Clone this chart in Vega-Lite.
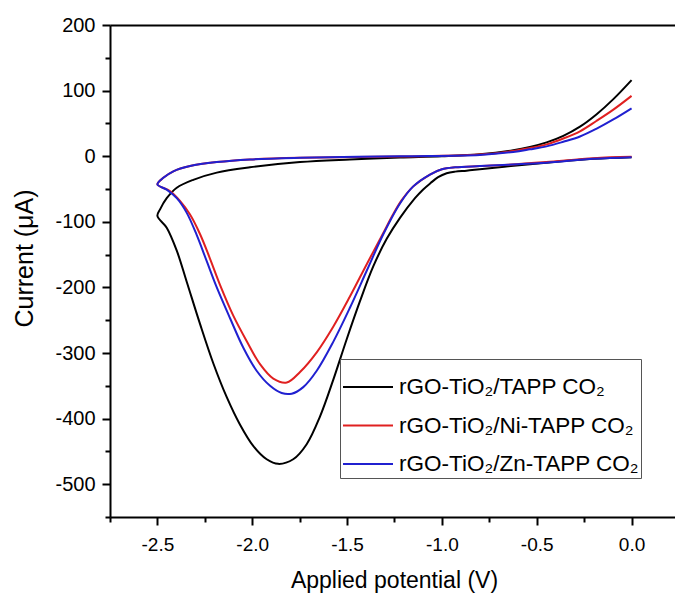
{
  "$schema": "https://vega.github.io/schema/vega-lite/v6.json",
  "autosize": "none",
  "padding": {"left": 110, "top": 25, "right": 0, "bottom": 77},
  "width": 565,
  "height": 492,
  "background": "white",
  "config": {
    "view": {"stroke": null},
    "font": "Liberation Sans",
    "axis": {
      "labelFont": "Liberation Sans",
      "titleFont": "Liberation Sans",
      "labelColor": "black",
      "titleColor": "black",
      "domainColor": "black",
      "tickColor": "black",
      "domainWidth": 2,
      "tickWidth": 2,
      "titleFontWeight": "normal",
      "grid": false
    }
  },
  "datasets": {
    "cv": [
      {"s": "rGO-TiO₂/TAPP  CO₂", "o": 0, "v": 0.0, "i": -1.5},
      {"s": "rGO-TiO₂/TAPP  CO₂", "o": 1, "v": -0.2, "i": -4},
      {"s": "rGO-TiO₂/TAPP  CO₂", "o": 2, "v": -0.45, "i": -10},
      {"s": "rGO-TiO₂/TAPP  CO₂", "o": 3, "v": -0.65, "i": -15.5},
      {"s": "rGO-TiO₂/TAPP  CO₂", "o": 4, "v": -0.8, "i": -20},
      {"s": "rGO-TiO₂/TAPP  CO₂", "o": 5, "v": -0.87, "i": -22},
      {"s": "rGO-TiO₂/TAPP  CO₂", "o": 6, "v": -0.93, "i": -23.5},
      {"s": "rGO-TiO₂/TAPP  CO₂", "o": 7, "v": -0.975, "i": -26},
      {"s": "rGO-TiO₂/TAPP  CO₂", "o": 8, "v": -1.02, "i": -32},
      {"s": "rGO-TiO₂/TAPP  CO₂", "o": 9, "v": -1.06, "i": -41},
      {"s": "rGO-TiO₂/TAPP  CO₂", "o": 10, "v": -1.1, "i": -51},
      {"s": "rGO-TiO₂/TAPP  CO₂", "o": 11, "v": -1.142, "i": -64},
      {"s": "rGO-TiO₂/TAPP  CO₂", "o": 12, "v": -1.221, "i": -94},
      {"s": "rGO-TiO₂/TAPP  CO₂", "o": 13, "v": -1.291, "i": -126},
      {"s": "rGO-TiO₂/TAPP  CO₂", "o": 14, "v": -1.362, "i": -168},
      {"s": "rGO-TiO₂/TAPP  CO₂", "o": 15, "v": -1.432, "i": -221},
      {"s": "rGO-TiO₂/TAPP  CO₂", "o": 16, "v": -1.502, "i": -279},
      {"s": "rGO-TiO₂/TAPP  CO₂", "o": 17, "v": -1.573, "i": -341},
      {"s": "rGO-TiO₂/TAPP  CO₂", "o": 18, "v": -1.643, "i": -397},
      {"s": "rGO-TiO₂/TAPP  CO₂", "o": 19, "v": -1.713, "i": -439},
      {"s": "rGO-TiO₂/TAPP  CO₂", "o": 20, "v": -1.784, "i": -462},
      {"s": "rGO-TiO₂/TAPP  CO₂", "o": 21, "v": -1.863, "i": -469},
      {"s": "rGO-TiO₂/TAPP  CO₂", "o": 22, "v": -1.924, "i": -462},
      {"s": "rGO-TiO₂/TAPP  CO₂", "o": 23, "v": -1.994, "i": -442},
      {"s": "rGO-TiO₂/TAPP  CO₂", "o": 24, "v": -2.065, "i": -409},
      {"s": "rGO-TiO₂/TAPP  CO₂", "o": 25, "v": -2.135, "i": -367},
      {"s": "rGO-TiO₂/TAPP  CO₂", "o": 26, "v": -2.205, "i": -316},
      {"s": "rGO-TiO₂/TAPP  CO₂", "o": 27, "v": -2.275, "i": -256},
      {"s": "rGO-TiO₂/TAPP  CO₂", "o": 28, "v": -2.346, "i": -191},
      {"s": "rGO-TiO₂/TAPP  CO₂", "o": 29, "v": -2.398, "i": -144},
      {"s": "rGO-TiO₂/TAPP  CO₂", "o": 30, "v": -2.451, "i": -109},
      {"s": "rGO-TiO₂/TAPP  CO₂", "o": 31, "v": -2.5, "i": -91},
      {"s": "rGO-TiO₂/TAPP  CO₂", "o": 32, "v": -2.486, "i": -81},
      {"s": "rGO-TiO₂/TAPP  CO₂", "o": 33, "v": -2.451, "i": -64},
      {"s": "rGO-TiO₂/TAPP  CO₂", "o": 34, "v": -2.398, "i": -48},
      {"s": "rGO-TiO₂/TAPP  CO₂", "o": 35, "v": -2.311, "i": -36},
      {"s": "rGO-TiO₂/TAPP  CO₂", "o": 36, "v": -2.187, "i": -25},
      {"s": "rGO-TiO₂/TAPP  CO₂", "o": 37, "v": -2.012, "i": -17},
      {"s": "rGO-TiO₂/TAPP  CO₂", "o": 38, "v": -1.748, "i": -9},
      {"s": "rGO-TiO₂/TAPP  CO₂", "o": 39, "v": -1.485, "i": -5},
      {"s": "rGO-TiO₂/TAPP  CO₂", "o": 40, "v": -1.221, "i": -2},
      {"s": "rGO-TiO₂/TAPP  CO₂", "o": 41, "v": -1.0, "i": 0},
      {"s": "rGO-TiO₂/TAPP  CO₂", "o": 42, "v": -0.8, "i": 3},
      {"s": "rGO-TiO₂/TAPP  CO₂", "o": 43, "v": -0.624, "i": 9},
      {"s": "rGO-TiO₂/TAPP  CO₂", "o": 44, "v": -0.536, "i": 14},
      {"s": "rGO-TiO₂/TAPP  CO₂", "o": 45, "v": -0.448, "i": 21},
      {"s": "rGO-TiO₂/TAPP  CO₂", "o": 46, "v": -0.36, "i": 31},
      {"s": "rGO-TiO₂/TAPP  CO₂", "o": 47, "v": -0.272, "i": 45},
      {"s": "rGO-TiO₂/TAPP  CO₂", "o": 48, "v": -0.184, "i": 64},
      {"s": "rGO-TiO₂/TAPP  CO₂", "o": 49, "v": -0.096, "i": 87},
      {"s": "rGO-TiO₂/TAPP  CO₂", "o": 50, "v": 0.0, "i": 116},

      {"s": "rGO-TiO₂/Ni-TAPP CO₂", "o": 0, "v": 0.0, "i": -1},
      {"s": "rGO-TiO₂/Ni-TAPP CO₂", "o": 1, "v": -0.2, "i": -3},
      {"s": "rGO-TiO₂/Ni-TAPP CO₂", "o": 2, "v": -0.45, "i": -9},
      {"s": "rGO-TiO₂/Ni-TAPP CO₂", "o": 3, "v": -0.65, "i": -13},
      {"s": "rGO-TiO₂/Ni-TAPP CO₂", "o": 4, "v": -0.8, "i": -15},
      {"s": "rGO-TiO₂/Ni-TAPP CO₂", "o": 5, "v": -0.93, "i": -17},
      {"s": "rGO-TiO₂/Ni-TAPP CO₂", "o": 6, "v": -1.0, "i": -20},
      {"s": "rGO-TiO₂/Ni-TAPP CO₂", "o": 7, "v": -1.063, "i": -28},
      {"s": "rGO-TiO₂/Ni-TAPP CO₂", "o": 8, "v": -1.151, "i": -46},
      {"s": "rGO-TiO₂/Ni-TAPP CO₂", "o": 9, "v": -1.212, "i": -67},
      {"s": "rGO-TiO₂/Ni-TAPP CO₂", "o": 10, "v": -1.26, "i": -90},
      {"s": "rGO-TiO₂/Ni-TAPP CO₂", "o": 11, "v": -1.309, "i": -117},
      {"s": "rGO-TiO₂/Ni-TAPP CO₂", "o": 12, "v": -1.397, "i": -165},
      {"s": "rGO-TiO₂/Ni-TAPP CO₂", "o": 13, "v": -1.485, "i": -214},
      {"s": "rGO-TiO₂/Ni-TAPP CO₂", "o": 14, "v": -1.573, "i": -260},
      {"s": "rGO-TiO₂/Ni-TAPP CO₂", "o": 15, "v": -1.66, "i": -299},
      {"s": "rGO-TiO₂/Ni-TAPP CO₂", "o": 16, "v": -1.748, "i": -329},
      {"s": "rGO-TiO₂/Ni-TAPP CO₂", "o": 17, "v": -1.818, "i": -345},
      {"s": "rGO-TiO₂/Ni-TAPP CO₂", "o": 18, "v": -1.889, "i": -339},
      {"s": "rGO-TiO₂/Ni-TAPP CO₂", "o": 19, "v": -1.959, "i": -317},
      {"s": "rGO-TiO₂/Ni-TAPP CO₂", "o": 20, "v": -2.029, "i": -282},
      {"s": "rGO-TiO₂/Ni-TAPP CO₂", "o": 21, "v": -2.1, "i": -243},
      {"s": "rGO-TiO₂/Ni-TAPP CO₂", "o": 22, "v": -2.17, "i": -196},
      {"s": "rGO-TiO₂/Ni-TAPP CO₂", "o": 23, "v": -2.223, "i": -156},
      {"s": "rGO-TiO₂/Ni-TAPP CO₂", "o": 24, "v": -2.275, "i": -119},
      {"s": "rGO-TiO₂/Ni-TAPP CO₂", "o": 25, "v": -2.328, "i": -89},
      {"s": "rGO-TiO₂/Ni-TAPP CO₂", "o": 26, "v": -2.381, "i": -68},
      {"s": "rGO-TiO₂/Ni-TAPP CO₂", "o": 27, "v": -2.434, "i": -53},
      {"s": "rGO-TiO₂/Ni-TAPP CO₂", "o": 28, "v": -2.5, "i": -43},
      {"s": "rGO-TiO₂/Ni-TAPP CO₂", "o": 29, "v": -2.469, "i": -33},
      {"s": "rGO-TiO₂/Ni-TAPP CO₂", "o": 30, "v": -2.416, "i": -23},
      {"s": "rGO-TiO₂/Ni-TAPP CO₂", "o": 31, "v": -2.328, "i": -15},
      {"s": "rGO-TiO₂/Ni-TAPP CO₂", "o": 32, "v": -2.187, "i": -9},
      {"s": "rGO-TiO₂/Ni-TAPP CO₂", "o": 33, "v": -2.012, "i": -5},
      {"s": "rGO-TiO₂/Ni-TAPP CO₂", "o": 34, "v": -1.748, "i": -2.5},
      {"s": "rGO-TiO₂/Ni-TAPP CO₂", "o": 35, "v": -1.221, "i": -0.5},
      {"s": "rGO-TiO₂/Ni-TAPP CO₂", "o": 36, "v": -0.8, "i": 2.5},
      {"s": "rGO-TiO₂/Ni-TAPP CO₂", "o": 37, "v": -0.624, "i": 8},
      {"s": "rGO-TiO₂/Ni-TAPP CO₂", "o": 38, "v": -0.536, "i": 12.5},
      {"s": "rGO-TiO₂/Ni-TAPP CO₂", "o": 39, "v": -0.448, "i": 18},
      {"s": "rGO-TiO₂/Ni-TAPP CO₂", "o": 40, "v": -0.36, "i": 27},
      {"s": "rGO-TiO₂/Ni-TAPP CO₂", "o": 41, "v": -0.272, "i": 38},
      {"s": "rGO-TiO₂/Ni-TAPP CO₂", "o": 42, "v": -0.184, "i": 54},
      {"s": "rGO-TiO₂/Ni-TAPP CO₂", "o": 43, "v": -0.096, "i": 71},
      {"s": "rGO-TiO₂/Ni-TAPP CO₂", "o": 44, "v": 0.0, "i": 92},

      {"s": "rGO-TiO₂/Zn-TAPP CO₂", "o": 0, "v": 0.0, "i": -1.5},
      {"s": "rGO-TiO₂/Zn-TAPP CO₂", "o": 1, "v": -0.2, "i": -4},
      {"s": "rGO-TiO₂/Zn-TAPP CO₂", "o": 2, "v": -0.45, "i": -10},
      {"s": "rGO-TiO₂/Zn-TAPP CO₂", "o": 3, "v": -0.65, "i": -13},
      {"s": "rGO-TiO₂/Zn-TAPP CO₂", "o": 4, "v": -0.8, "i": -15},
      {"s": "rGO-TiO₂/Zn-TAPP CO₂", "o": 5, "v": -0.93, "i": -17},
      {"s": "rGO-TiO₂/Zn-TAPP CO₂", "o": 6, "v": -1.0, "i": -20},
      {"s": "rGO-TiO₂/Zn-TAPP CO₂", "o": 7, "v": -1.063, "i": -28},
      {"s": "rGO-TiO₂/Zn-TAPP CO₂", "o": 8, "v": -1.151, "i": -46},
      {"s": "rGO-TiO₂/Zn-TAPP CO₂", "o": 9, "v": -1.221, "i": -72},
      {"s": "rGO-TiO₂/Zn-TAPP CO₂", "o": 10, "v": -1.309, "i": -119},
      {"s": "rGO-TiO₂/Zn-TAPP CO₂", "o": 11, "v": -1.397, "i": -175},
      {"s": "rGO-TiO₂/Zn-TAPP CO₂", "o": 12, "v": -1.485, "i": -231},
      {"s": "rGO-TiO₂/Zn-TAPP CO₂", "o": 13, "v": -1.573, "i": -283},
      {"s": "rGO-TiO₂/Zn-TAPP CO₂", "o": 14, "v": -1.66, "i": -327},
      {"s": "rGO-TiO₂/Zn-TAPP CO₂", "o": 15, "v": -1.731, "i": -352},
      {"s": "rGO-TiO₂/Zn-TAPP CO₂", "o": 16, "v": -1.792, "i": -362},
      {"s": "rGO-TiO₂/Zn-TAPP CO₂", "o": 17, "v": -1.845, "i": -361},
      {"s": "rGO-TiO₂/Zn-TAPP CO₂", "o": 18, "v": -1.906, "i": -350},
      {"s": "rGO-TiO₂/Zn-TAPP CO₂", "o": 19, "v": -1.977, "i": -327},
      {"s": "rGO-TiO₂/Zn-TAPP CO₂", "o": 20, "v": -2.047, "i": -292},
      {"s": "rGO-TiO₂/Zn-TAPP CO₂", "o": 21, "v": -2.117, "i": -247},
      {"s": "rGO-TiO₂/Zn-TAPP CO₂", "o": 22, "v": -2.187, "i": -200},
      {"s": "rGO-TiO₂/Zn-TAPP CO₂", "o": 23, "v": -2.24, "i": -160},
      {"s": "rGO-TiO₂/Zn-TAPP CO₂", "o": 24, "v": -2.293, "i": -120},
      {"s": "rGO-TiO₂/Zn-TAPP CO₂", "o": 25, "v": -2.346, "i": -86},
      {"s": "rGO-TiO₂/Zn-TAPP CO₂", "o": 26, "v": -2.398, "i": -64},
      {"s": "rGO-TiO₂/Zn-TAPP CO₂", "o": 27, "v": -2.451, "i": -51},
      {"s": "rGO-TiO₂/Zn-TAPP CO₂", "o": 28, "v": -2.5, "i": -43},
      {"s": "rGO-TiO₂/Zn-TAPP CO₂", "o": 29, "v": -2.469, "i": -33},
      {"s": "rGO-TiO₂/Zn-TAPP CO₂", "o": 30, "v": -2.416, "i": -23},
      {"s": "rGO-TiO₂/Zn-TAPP CO₂", "o": 31, "v": -2.328, "i": -15},
      {"s": "rGO-TiO₂/Zn-TAPP CO₂", "o": 32, "v": -2.187, "i": -9},
      {"s": "rGO-TiO₂/Zn-TAPP CO₂", "o": 33, "v": -2.012, "i": -5},
      {"s": "rGO-TiO₂/Zn-TAPP CO₂", "o": 34, "v": -1.748, "i": -2.5},
      {"s": "rGO-TiO₂/Zn-TAPP CO₂", "o": 35, "v": -1.221, "i": 0},
      {"s": "rGO-TiO₂/Zn-TAPP CO₂", "o": 36, "v": -0.8, "i": 2},
      {"s": "rGO-TiO₂/Zn-TAPP CO₂", "o": 37, "v": -0.624, "i": 6.5},
      {"s": "rGO-TiO₂/Zn-TAPP CO₂", "o": 38, "v": -0.536, "i": 10.5},
      {"s": "rGO-TiO₂/Zn-TAPP CO₂", "o": 39, "v": -0.448, "i": 15},
      {"s": "rGO-TiO₂/Zn-TAPP CO₂", "o": 40, "v": -0.36, "i": 22},
      {"s": "rGO-TiO₂/Zn-TAPP CO₂", "o": 41, "v": -0.272, "i": 30},
      {"s": "rGO-TiO₂/Zn-TAPP CO₂", "o": 42, "v": -0.184, "i": 42},
      {"s": "rGO-TiO₂/Zn-TAPP CO₂", "o": 43, "v": -0.096, "i": 56},
      {"s": "rGO-TiO₂/Zn-TAPP CO₂", "o": 44, "v": 0.0, "i": 73}
    ]
  },
  "data": {"name": "cv"},
  "resolve": {"axis": {"x": "independent", "y": "independent"}},
  "layer": [
    {
      "mark": {"type": "line", "strokeWidth": 2, "interpolate": "catmull-rom", "clip": true},
      "encoding": {
        "x": {
          "field": "v", "type": "quantitative",
          "scale": {"domain": [-2.75, 0.229], "nice": false, "zero": false},
          "axis": {
            "orient": "bottom",
            "values": [-2.5, -2.0, -1.5, -1.0, -0.5, 0.0],
            "format": ".1f",
            "labelExpr": "replace(datum.label, '−', '-')",
            "tickSize": 8,
            "labelPadding": 10,
            "labelFontSize": 19,
            "labelFlush": false,
            "title": "Applied potential (V)",
            "titleFontSize": 23,
            "titleBaseline": "alphabetic",
            "titleY": 70,
            "titleX": 284
          }
        },
        "y": {
          "field": "i", "type": "quantitative",
          "scale": {"domain": [-550, 200], "nice": false, "zero": false},
          "axis": {
            "orient": "left",
            "values": [-500, -400, -300, -200, -100, 0, 100, 200],
            "labelExpr": "replace(datum.label, '−', '-')",
            "tickSize": 8,
            "labelPadding": 7,
            "labelFontSize": 20,
            "labelFlush": false,
            "title": "Current (μA)",
            "titleFontSize": 25,
            "titleAngle": -90,
            "titleBaseline": "alphabetic",
            "titleAlign": "center",
            "titleX": -78,
            "titleY": 233
          }
        },
        "color": {
          "field": "s", "type": "nominal",
          "scale": {
            "domain": ["rGO-TiO₂/TAPP  CO₂", "rGO-TiO₂/Ni-TAPP CO₂", "rGO-TiO₂/Zn-TAPP CO₂"],
            "range": ["#000000", "#e02020", "#2020d0"]
          },
          "legend": {
            "orient": "none",
            "legendX": 230,
            "legendY": 334,
            "title": null,
            "symbolType": "stroke",
            "symbolSize": 2500,
            "symbolStrokeWidth": 2,
            "labelFont": "Liberation Sans",
            "labelFontSize": 22.5,
            "labelColor": "black",
            "labelOffset": 5,
            "labelLimit": 400,
            "rowPadding": 0.5,
            "padding": 2,
            "strokeColor": "#555555",
            "fillColor": "white"
          }
        },
        "order": {"field": "o", "type": "quantitative"}
      }
    },
    {
      "mark": {"type": "point", "opacity": 0},
      "encoding": {
        "x": {
          "field": "v", "type": "quantitative",
          "scale": {"domain": [-2.75, 0.229], "nice": false, "zero": false},
          "axis": {
            "orient": "bottom",
            "values": [-2.75, -2.25, -1.75, -1.25, -0.75, -0.25],
            "tickSize": 5,
            "labels": false,
            "domain": false,
            "title": null
          }
        },
        "y": {
          "field": "i", "type": "quantitative",
          "scale": {"domain": [-550, 200], "nice": false, "zero": false},
          "axis": {
            "orient": "left",
            "values": [-550, -450, -350, -250, -150, -50, 50, 150],
            "tickSize": 5,
            "labels": false,
            "domain": false,
            "title": null
          }
        }
      }
    },
    {
      "mark": {"type": "point", "opacity": 0},
      "encoding": {
        "x": {
          "field": "v", "type": "quantitative",
          "scale": {"domain": [-2.75, 0.229], "nice": false, "zero": false},
          "axis": {
            "orient": "top",
            "ticks": false,
            "labels": false,
            "domain": true,
            "title": null
          }
        },
        "y": {
          "field": "i", "type": "quantitative",
          "scale": {"domain": [-550, 200], "nice": false, "zero": false},
          "axis": null
        }
      }
    }
  ]
}
